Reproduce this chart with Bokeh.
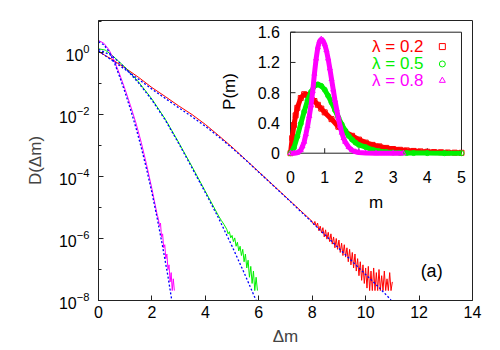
import numpy as np
from bokeh.plotting import figure
from bokeh.models import Range1d, FixedTicker, LinearScale
from bokeh.core.properties import value
from bokeh.embed import file_html
from bokeh.resources import INLINE

FONT = "Liberation Sans"

# ---------------- main panel: log10 D(dm) ----------------
# lambda = 0.2 (red data)
l02_dm = [0, 0.5, 1.0, 1.5, 2.0, 2.5, 3.0, 3.5, 4.0, 4.5, 5.0, 5.5, 6.0, 6.5, 7.0, 7.5, 8.0] \
    + list(np.round(np.arange(161, 221) * 0.05, 2))
l02_logD = [0.03, -0.22, -0.5, -0.8, -1.13, -1.42, -1.72, -2.0, -2.32, -2.68, -3.05, -3.45,
            -3.85, -4.25, -4.65, -5.05, -5.45,
            -5.55, -5.45, -5.62, -5.50, -5.75, -5.60, -5.82, -5.65, -5.95, -5.72,
            -6.02, -5.80, -6.10, -5.85, -6.18, -5.95, -6.30, -6.00, -6.35, -6.05,
            -6.45, -6.15, -6.55, -6.20, -6.60, -6.30, -6.75, -6.35, -6.85, -6.45,
            -6.95, -6.50, -7.05, -6.65, -7.20, -6.75, -7.35, -6.85, -7.45, -6.95,
            -7.60, -6.90, -7.68, -7.05, -7.68, -6.95, -7.68, -7.10, -7.68, -7.00,
            -7.68, -7.20, -7.68, -7.05, -7.68, -7.30, -7.68, -7.10, -7.68, -7.40]
# lambda = 0.5 (green data)
l05_dm = [0, 0.25, 0.5, 0.75, 1.0, 1.5, 2.0, 2.5, 3.0, 3.5, 4.0, 4.5, 4.6, 4.7] \
    + list(np.round(np.arange(96, 120) * 0.05, 2))
l05_logD = [0.12, 0.08, -0.08, -0.28, -0.48, -0.95, -1.5, -2.15, -2.9, -3.68, -4.48, -5.28, -5.42, -5.55,
            -5.70, -5.85, -5.78, -5.98, -5.90, -6.10, -5.98, -6.25, -6.12, -6.40, -6.25, -6.55,
            -6.35, -6.75, -6.50, -6.95, -6.70, -7.25, -6.90, -7.45, -7.05, -7.68, -7.25, -7.68]
# lambda = 0.8 (magenta data)
l08_dm = [0, 0.2, 0.4, 0.6, 0.8, 1.0, 1.2, 1.4, 1.6, 1.8, 2.0, 2.2] \
    + list(np.round(np.arange(56, 72) * 0.04, 2))
l08_logD = [0.39, 0.3, 0.08, -0.28, -0.72, -1.2, -1.72, -2.27, -2.9, -3.62, -4.4, -5.25,
            -5.35, -5.6, -5.5, -5.95, -5.85, -6.3, -6.2, -6.65, -6.5, -7.0, -6.85, -7.4,
            -7.1, -7.68, -7.3, -7.68]

# fitted curves (blue dotted)
fit02_dm = [0, 0.5, 1.0, 1.5, 2.0, 2.5, 3.0, 3.5, 4.0, 4.5, 5.0, 5.5, 6.0, 6.5, 7.0, 7.5, 8.0,
            8.5, 9.0, 9.5, 10.0, 10.5, 10.95]
fit02_logD = [0.05, -0.25, -0.55, -0.86, -1.18, -1.48, -1.78, -2.07, -2.38, -2.72, -3.08, -3.46,
              -3.86, -4.26, -4.66, -5.07, -5.48, -5.9, -6.32, -6.74, -7.16, -7.58, -7.98]
fit05_dm = [0, 0.5, 1.0, 1.5, 2.0, 2.5, 3.0, 3.5, 4.0, 4.5, 5.0, 5.5, 5.8, 5.9]
fit05_logD = [0.1, -0.1, -0.5, -0.98, -1.53, -2.18, -2.93, -3.72, -4.52, -5.35, -6.25, -7.2, -7.8, -8.0]
fit08_dm = [0, 0.2, 0.4, 0.6, 0.8, 1.0, 1.2, 1.4, 1.6, 1.8, 2.0, 2.2, 2.4, 2.6, 2.74]
fit08_logD = [0.35, 0.25, 0.02, -0.34, -0.8, -1.3, -1.84, -2.42, -3.06, -3.76, -4.52, -5.36,
              -6.26, -7.22, -7.98]

main_xticks = [0, 2, 4, 6, 8, 10, 12, 14]
main_yticks = [1e-8, 1e-6, 1e-4, 1e-2, 1]
main_yminor = [1e-7, 1e-5, 1e-3, 1e-1, 10]

# ---------------- inset: P(m) ----------------
p02_m = [0, 0.05, 0.1, 0.15, 0.2, 0.3, 0.4, 0.5, 0.6, 0.7, 0.8, 0.9, 1.0,
         1.2, 1.4, 1.6, 1.8, 2.0, 2.2, 2.4, 2.6, 2.8, 3.0, 3.2, 3.4, 3.6, 3.8, 4.0,
         4.2, 4.4, 4.6, 4.8, 5.0]
p02_P = [0, 0.2, 0.37, 0.5, 0.6, 0.73, 0.78, 0.77, 0.74, 0.69, 0.64, 0.59, 0.54,
         0.45, 0.35, 0.28, 0.23, 0.18, 0.14, 0.11, 0.09, 0.07, 0.055, 0.045, 0.037, 0.03,
         0.024, 0.019, 0.015, 0.012, 0.009, 0.007, 0.005]
p05_m = [0, 0.1, 0.2, 0.3, 0.4, 0.5, 0.6, 0.7, 0.8, 0.9, 1.0, 1.1, 1.2, 1.3, 1.4, 1.5, 1.6,
         1.7, 1.8, 1.9, 2.0, 2.2, 2.4, 2.6, 2.8, 3.0, 3.2, 3.4, 3.6, 4.0, 4.5, 5.0]
p05_P = [0, 0.07, 0.22, 0.39, 0.55, 0.7, 0.81, 0.89, 0.91, 0.89, 0.84, 0.76, 0.67, 0.57, 0.47,
         0.38, 0.3, 0.23, 0.18, 0.14, 0.11, 0.08, 0.045, 0.025, 0.015, 0.009, 0.005, 0.003,
         0.002, 0.001, 0.0, 0.0]
p08_m = [0, 0.1, 0.2, 0.3, 0.35, 0.4, 0.45, 0.5, 0.55, 0.6, 0.65, 0.7, 0.75, 0.8, 0.85, 0.9,
         0.95, 1.0, 1.05, 1.1, 1.15, 1.2, 1.25, 1.3, 1.35, 1.4, 1.45, 1.5, 1.55, 1.6,
         1.7, 1.8, 1.9, 2.0, 2.2, 2.5, 3.0, 3.3]
p08_P = [0, 0, 0.005, 0.04, 0.09, 0.15, 0.25, 0.36, 0.49, 0.63, 0.82, 1.05, 1.25, 1.4, 1.48,
         1.51, 1.49, 1.44, 1.36, 1.25, 1.12, 0.98, 0.84, 0.7, 0.58, 0.46, 0.36, 0.27, 0.2,
         0.15, 0.08, 0.04, 0.02, 0.01, 0.003, 0, 0, 0]

inset_xticks = [0, 1, 2, 3, 4, 5]
inset_yticks = [0, 0.4, 0.8, 1.2, 1.6]
inset_ylabels = ["0", "0.4", "0.8", "1.2", "1.6"]
legend_labels = ["λ = 0.2", "λ = 0.5", "λ = 0.8"]
legend_P = [1.41, 1.18, 0.96]

RED, GREEN, MAGENTA, BLUE = "#ff0000", "#00f000", "#ff00ff", "#0000ff"

# ---------------- figure ----------------
p = figure(width=492, height=350, x_range=Range1d(0, 14), y_range=Range1d(1e-8, 10.8),
           y_axis_type="log", output_backend="svg", toolbar_location=None,
           min_border_left=98, min_border_right=20, min_border_top=20, min_border_bottom=50)
p.xgrid.visible = False
p.ygrid.visible = False
p.outline_line_color = "#222222"
p.outline_line_width = 1

# inset coordinate system inside the same frame
p.extra_x_ranges = {"ix": Range1d(-5.614, 5.322)}
p.extra_y_ranges = {"iy": Range1d(-1.9478, 1.7547)}
p.extra_y_scales = {"iy": LinearScale()}

for ax in (p.xaxis[0], p.yaxis[0]):
    ax.major_tick_in = 5
    ax.major_tick_out = 0
    ax.minor_tick_in = 3
    ax.minor_tick_out = 0
    ax.major_label_text_font = FONT
    ax.major_label_text_font_size = "16px"
    ax.major_label_text_color = "black"
    ax.axis_label_text_font = FONT
    ax.axis_label_text_font_size = "17px"
    ax.axis_label_text_font_style = "normal"
    ax.axis_line_color = "#222222"
    ax.major_tick_line_color = "#222222"
    ax.minor_tick_line_color = "#222222"

p.xaxis.ticker = FixedTicker(ticks=main_xticks, minor_ticks=[])
p.xaxis.axis_label = "Δm"
p.xaxis.major_label_standoff = 5
p.xaxis.axis_label_standoff = 6
p.yaxis.ticker = FixedTicker(ticks=main_yticks, minor_ticks=main_yminor)
p.yaxis.axis_label = "D(Δm)"
p.yaxis.major_label_standoff = 9
p.yaxis.axis_label_standoff = 11

# main data
p.line(l02_dm, 10 ** np.array(l02_logD), line_color=RED, line_width=1)
p.line(l05_dm, 10 ** np.array(l05_logD), line_color=GREEN, line_width=1)
p.line(l08_dm, 10 ** np.array(l08_logD), line_color=MAGENTA, line_width=1)
for fx, fy in ((fit02_dm, fit02_logD), (fit05_dm, fit05_logD), (fit08_dm, fit08_logD)):
    p.line(fx, 10 ** np.array(fy), line_color=BLUE, line_width=1.3, line_dash="2 2")

p.text(x=[12.47], y=[10 ** -7.06], text=["(a)"], text_font=value(FONT), text_font_size="18px",
       text_align="center", text_baseline="middle", text_color="black")

# ---------------- inset ----------------
kw = dict(x_range_name="ix", y_range_name="iy")
p.quad(left=[0], right=[5], bottom=[0], top=[1.6], fill_color="white", line_color="#222222",
       line_width=1, **kw)
p.segment(x0=inset_xticks, x1=inset_xticks, y0=[0] * 6, y1=[0.066] * 6, line_color="#222222", **kw)
p.segment(x0=[0] * 5, x1=[0.146] * 5, y0=inset_yticks, y1=inset_yticks, line_color="#222222", **kw)

p.line(p02_m, p02_P, line_color=RED, line_width=5, **kw)
p.scatter(p02_m, p02_P, marker="square", size=5, fill_color=None, line_color=RED, **kw)
p.line(p05_m, p05_P, line_color=GREEN, line_width=5, **kw)
p.scatter(p05_m, p05_P, marker="circle", size=5, fill_color=None, line_color=GREEN, **kw)
p.line(p08_m, p08_P, line_color=MAGENTA, line_width=5, **kw)
p.scatter(p08_m, p08_P, marker="triangle", size=5, fill_color=None, line_color=MAGENTA, **kw)

p.text(x=inset_xticks, y=[-0.317] * 6, text=[str(t) for t in inset_xticks], text_font=value(FONT),
       text_font_size="16px", text_align="center", text_baseline="alphabetic", **kw)
p.text(x=[-0.31] * 5, y=inset_yticks, text=inset_ylabels, text_font=value(FONT),
       text_font_size="16px", text_align="right", text_baseline="middle", **kw)
p.text(x=[2.5], y=[-0.648], text=["m"], text_font=value(FONT), text_font_size="17px",
       text_align="center", text_baseline="alphabetic", **kw)
p.text(x=[-1.784], y=[0.816], text=["P(m)"], angle=np.pi / 2, text_font=value(FONT),
       text_font_size="17px", text_align="center", text_baseline="middle", **kw)

p.text(x=[3.89] * 3, y=legend_P, text=legend_labels, text_font=value(FONT), text_font_size="17px",
       text_align="right", text_baseline="middle", text_color=[RED, GREEN, MAGENTA], **kw)
for mk, col, yy in (("square", RED, legend_P[0]), ("circle", GREEN, legend_P[1]),
                    ("triangle", MAGENTA, legend_P[2])):
    p.scatter([4.44], [yy], marker=mk, size=6, fill_color=None, line_color=col, **kw)

open("out.html", "w").write(file_html(p, INLINE))
